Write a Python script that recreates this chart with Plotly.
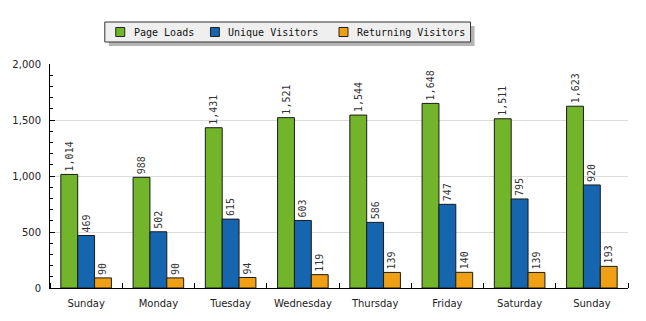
import plotly.graph_objects as go

days = ["Sunday", "Monday", "Tuesday", "Wednesday", "Thursday", "Friday", "Saturday", "Sunday"]
series_names = ["Page Loads", "Unique Visitors", "Returning Visitors"]
page_loads = [1014, 988, 1431, 1521, 1544, 1648, 1511, 1623]
unique_visitors = [469, 502, 615, 603, 586, 747, 795, 920]
returning_visitors = [90, 90, 94, 119, 139, 140, 139, 193]
colors = ["#72B52A", "#1665AF", "#EFA015"]
y_ticks = [0, 500, 1000, 1500, 2000]

W, H = 646, 321
L, R, T, B = 48, 628, 64, 288

def px(x):
    return (x - L) / (R - L)

def py(y):
    return (B - y) / (B - T)

xs = list(range(len(days)))
fig = go.Figure()
for name, vals, col in zip(series_names, [page_loads, unique_visitors, returning_visitors], colors):
    fig.add_trace(go.Bar(
        x=xs, y=vals, name=name,
        marker=dict(color=col, line=dict(color="#1a1a1a", width=1)),
        text=[f"{v:,}" for v in vals],
        textposition="outside", textangle=-90, constraintext="none",
        textfont=dict(family="DejaVu Sans Mono", size=10, color="#333333"),
        cliponaxis=False, showlegend=False,
    ))

fig.update_layout(
    width=W, height=H,
    margin=dict(l=L, r=W - R, t=T, b=H - B),
    paper_bgcolor="white", plot_bgcolor="white",
    barmode="group", bargap=0.3, bargroupgap=0,
    xaxis=dict(
        range=[-0.5, len(days) - 0.5], tickvals=xs, ticktext=days,
        ticks="", showgrid=False, zeroline=False,
        showline=True, linecolor="#000000", linewidth=1,
        tickfont=dict(family="DejaVu Sans", size=10, color="#222222"),
        ticklabelstandoff=6,
        minor=dict(tick0=-0.5, dtick=1, ticks="inside", ticklen=5, tickcolor="#000000", showgrid=False),
    ),
    yaxis=dict(
        range=[0, 2000], tickvals=y_ticks, tickformat=",",
        ticks="inside", ticklen=5, tickcolor="#000000",
        showgrid=True, gridcolor="#dcdcdc", gridwidth=1, zeroline=False,
        showline=True, linecolor="#000000", linewidth=1,
        tickfont=dict(family="DejaVu Sans", size=10, color="#222222"),
        ticklabelstandoff=6,
        minor=dict(dtick=100, ticks="inside", ticklen=3, tickcolor="#000000", showgrid=False),
    ),
)

# legend box (with drop shadow)
shapes = [
    dict(type="rect", xref="paper", yref="paper", x0=px(107), x1=px(474), y0=py(46), y1=py(26),
         fillcolor="#b4b4b4", line=dict(width=0), layer="above"),
    dict(type="rect", xref="paper", yref="paper", x0=px(103), x1=px(470), y0=py(42), y1=py(22),
         fillcolor="#efefef", line=dict(color="#333333", width=1), layer="above"),
]
anns = []
for name, col, sx, tx in zip(series_names, colors, [114, 209, 338], [130, 225, 354]):
    shapes.append(dict(type="rect", xref="paper", yref="paper", x0=px(sx), x1=px(sx + 9),
                       y0=py(36.5), y1=py(27.5), fillcolor=col,
                       line=dict(color="#222222", width=1), layer="above"))
    anns.append(dict(x=px(tx), y=py(32.5), xref="paper", yref="paper", text=name,
                     showarrow=False, xanchor="left", yanchor="middle",
                     font=dict(family="DejaVu Sans Mono", size=10, color="#111111")))
fig.update_layout(shapes=shapes, annotations=anns)

fig.write_html("out.html")
